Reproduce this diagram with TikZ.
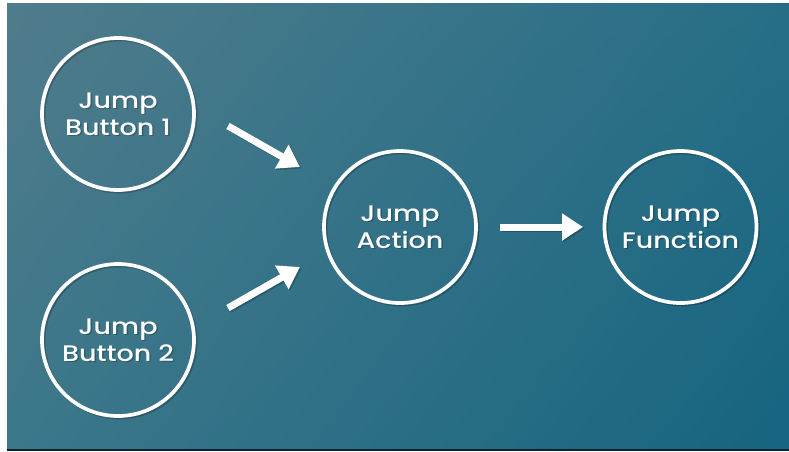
\documentclass[tikz,border=0pt]{standalone}
\usepackage{fontspec}
\setmainfont{Poppins}[UprightFont={* Medium},FakeStretch=1.2]
\usetikzlibrary{arrows.meta,shadings}
\definecolor{bgUL}{RGB}{80,124,139}
\definecolor{bgUR}{RGB}{38,110,135}
\definecolor{bgLL}{RGB}{60,119,138}
\definecolor{bgLR}{RGB}{22,100,128}
\definecolor{bgBottom}{RGB}{14,34,52}
\begin{document}
\begin{tikzpicture}[x=1pt,y=-1pt,
  bubble/.style={circle,draw=white,line width=3.7pt,minimum size=152pt,inner sep=0pt,
    align=center,text=white,font=\fontsize{22.5}{27}\selectfont},
  bubbleshadow/.style={bubble,draw=black,text=black,opacity=0.22},
  arr/.style={draw=white,line width=7pt,-{Triangle[width=26pt,length=21pt]}},
  arrshadow/.style={arr,draw=black,opacity=0.22},
]
\useasboundingbox (0,0) rectangle (789,451);
\fill[white] (0,0) rectangle (789,451);
\shade[upper left=bgUL,upper right=bgUR,lower left=bgLL,lower right=bgLR] (7,3) rectangle (789,449);
\fill[bgBottom] (7,449) rectangle (789,451);

% shadows
\node[bubbleshadow] (b1s) at (119.5,115.5) {Jump\\Button 1};
\node[bubbleshadow] (b2s) at (119.5,341.5) {Jump\\Button 2};
\node[bubbleshadow] (acts) at (401.5,228.5) {Jump\\Action};
\node[bubbleshadow] (funs) at (682,228.5) {Jump\\Function};

% nodes
\node[bubble] (b1) at (118,114) {Jump\\Button 1};
\node[bubble] (b2) at (118,340) {Jump\\Button 2};
\node[bubble] (act) at (400,227) {Jump\\Action};
\node[bubble] (fun) at (680.5,227) {Jump\\Function};

% arrow ends
\coordinate (t1) at (228,126);
\coordinate (h1) at (300,167);
\coordinate (t2) at (228,308);
\coordinate (h2) at (300,267);
\coordinate (t3) at (500,227);
\coordinate (h3) at (583,227);
\coordinate (t1s) at (229.5,127.5);
\coordinate (h1s) at (301.5,168.5);
\coordinate (t2s) at (229.5,309.5);
\coordinate (h2s) at (301.5,268.5);
\coordinate (t3s) at (501.5,228.5);
\coordinate (h3s) at (584.5,228.5);

\draw[arrshadow] (t1s) -- (h1s);
\draw[arrshadow] (t2s) -- (h2s);
\draw[arrshadow] (t3s) -- (h3s);
\draw[arr] (t1) -- (h1);
\draw[arr] (t2) -- (h2);
\draw[arr] (t3) -- (h3);
\end{tikzpicture}
\end{document}
